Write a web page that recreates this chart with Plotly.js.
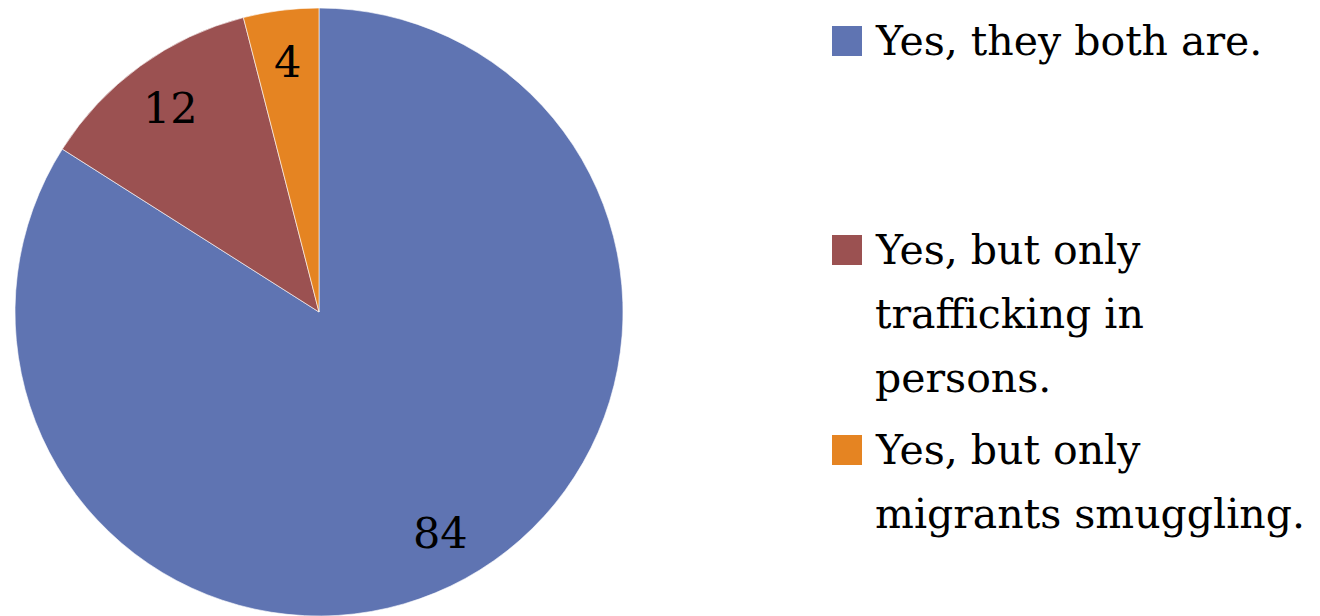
<!DOCTYPE html>
<html>
<head>
<meta charset="utf-8">
<script src="https://cdn.plot.ly/plotly-3.0.1.min.js"></script>
<style>html,body{margin:0;padding:0;background:#fff;}#chart{width:1320px;height:616px;}</style>
</head>
<body>
<div id="chart"></div>
<script>
// Data
const categories = ["Yes, they both are.", "Yes, but only trafficking in persons.", "Yes, but only migrants smuggling."];
const legendLines = [["Yes, they both are."], ["Yes, but only", "trafficking in", "persons."], ["Yes, but only", "migrants smuggling."]];
const values = [84, 12, 4];
const colors = ["#5F74B2", "#9B5151", "#E58422"];

const W = 1320, H = 616;
const serif = "DejaVu Serif, Liberation Serif, serif";

// pie geometry (domain)
const cx = 319, cy0 = 312, R = 304;

const trace = {
  type: "pie",
  labels: categories,
  values: values,
  sort: false,
  direction: "clockwise",
  rotation: 0,
  marker: {colors: colors, line: {color: "rgba(255,255,255,0.6)", width: 1}},
  textinfo: "none",
  hoverinfo: "label+value",
  showlegend: false,
  domain: {x: [(cx - R) / W, (cx + R) / W], y: [(H - cy0 - R) / H, (H - cy0 + R) / H]}
};

const shapes = [];
const annotations = [];

// data labels placed along each slice's mid-angle (as the original's best-fit labels)
const total = values.reduce((a, b) => a + b, 0);
let cum = 0;
values.forEach((v, i) => {
  const mid = (cum + v / 2) / total * 2 * Math.PI;
  cum += v;
  const d = 0.83 * R;
  const px = cx + d * Math.sin(mid);
  const py = cy0 - d * Math.cos(mid);
  annotations.push({xref: "paper", yref: "paper", x: px / W, y: 1 - py / H,
    xanchor: "center", yanchor: "middle", text: String(v), showarrow: false,
    font: {family: serif, size: 43, color: "#000"}});
});

// custom legend
const firstLineCenters = [41, 250, 450];
const lineGap = 64;
legendLines.forEach((lines, i) => {
  const c = firstLineCenters[i];
  shapes.push({type: "rect", xref: "paper", yref: "paper",
    x0: 832 / W, x1: 862 / W, y0: 1 - (c + 15) / H, y1: 1 - (c - 15) / H,
    fillcolor: colors[i], line: {width: 0}});
  lines.forEach((t, j) => {
    annotations.push({xref: "paper", yref: "paper", x: 873 / W, y: 1 - (c + j * lineGap) / H,
      xanchor: "left", yanchor: "middle", text: t, showarrow: false,
      font: {family: serif, size: 41, color: "#000"}});
  });
});

const layout = {
  width: W, height: H,
  margin: {l: 0, r: 0, t: 0, b: 0},
  paper_bgcolor: "#fff",
  showlegend: false,
  shapes: shapes,
  annotations: annotations
};
Plotly.newPlot("chart", [trace], layout, {displayModeBar: false, staticPlot: true});
</script>
</body>
</html>
